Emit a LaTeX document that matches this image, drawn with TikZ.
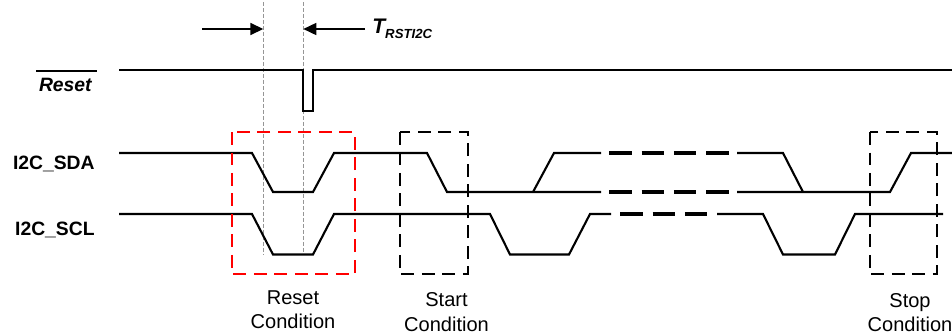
\documentclass[tikz,border=0pt]{standalone}
\usepackage{fontspec}
\setmainfont{Liberation Sans}
\usepackage{tikz}
\usepackage{xcolor}
\usetikzlibrary{arrows.meta,calc}
\definecolor{guidegray}{RGB}{150,150,150}

\begin{document}
\begin{tikzpicture}[
  x=0.02cm, y=-0.02cm,
  sig/.style={line width=1.2pt, line join=miter},
  gapdash/.style={line width=1.8pt, dash pattern=on 0.45cm off 0.2cm},
  condbox/.style={line width=1.4pt, dash pattern=on 0.26cm off 0.15cm},
  marker/.style={guidegray, line width=0.6pt, dash pattern=on 0.08cm off 0.04cm},
  arrow/.style={-{Triangle[length=0.26cm,width=0.24cm]}, line width=0.9pt},
  lbl/.style={inner sep=0pt, font=\fontsize{11}{13}\selectfont\bfseries},
  cond/.style={inner sep=0pt, anchor=base, font=\fontsize{11.4}{14}\selectfont}
]
\useasboundingbox (0,0) rectangle (952,335);

% signal names
\node[lbl, anchor=base east, font=\fontsize{11}{13}\selectfont\bfseries\itshape] (rstlbl) at (92,91.7) {Reset};
\draw[line width=1pt] ([xshift=-0.05cm,yshift=4pt]rstlbl.north west) -- ([xshift=0.09cm,yshift=4pt]rstlbl.north east);
\node[lbl, anchor=base east] (sdalbl) at (95,169) {I2C\_SDA};
\node[lbl, anchor=base east] (scllbl) at (95,235.7) {I2C\_SCL};

% timing markers
\coordinate (mkA) at (263.3,29);
\coordinate (mkB) at (303.3,29);
\coordinate (arA) at (202,29);
\coordinate (arB) at (365,29);
\draw[marker] (263.3,2) -- (263.3,255);
\draw[marker] (303.3,2) -- (303.3,255);
\draw[arrow] (arA) -- (mkA);
\draw[arrow] (arB) -- (mkB);
\node[inner sep=0pt, anchor=base west, font=\fontsize{12}{14}\selectfont\bfseries\itshape] (tlbl) at (372,33)
  {T\raisebox{-3pt}{\fontsize{7.5}{8}\selectfont RSTI2C}};

% reset line
\draw[sig] (119,70) -- (303.3,70) -- (303.3,111) -- (313.3,111) -- (313.3,70) -- (952,70);

% SDA
\draw[sig] (119,153) -- (252,153) -- (273,192) -- (313,192) -- (334,153) -- (427,153) -- (447,192) -- (601,192);
\draw[sig] (533,192) -- (554,153) -- (601,153);
\draw[gapdash] (609,153) -- (731,153);
\draw[gapdash] (609,192) -- (731,192);
\draw[sig] (737,153) -- (783,153) -- (803,192);
\draw[sig] (737,192) -- (890,192) -- (911,153) -- (952,153);

% SCL
\draw[sig] (119,214) -- (252,214) -- (273,254.5) -- (313,254.5) -- (334,214) -- (490,214) -- (510,254.5) -- (569,254.5) -- (590,214) -- (611,214);
\draw[gapdash] (620,214) -- (708,214);
\draw[sig] (717,214) -- (763,214) -- (783,254.5) -- (835,254.5) -- (855,214) -- (943,214);

% conditions
\draw[condbox, red] (232,132) rectangle (355,274);
\draw[condbox] (400,132) rectangle (468,274);
\draw[condbox] (870,132) rectangle (937,274);

\node[cond] (rstA) at (293,304.3) {Reset};
\node[cond] (rstB) at (293,328.3) {Condition};
\node[cond] (startA) at (446.5,306.7) {Start};
\node[cond] (startB) at (446.5,331.5) {Condition};
\node[cond] (stopA) at (910,307) {Stop};
\node[cond] (stopB) at (910,331.5) {Condition};

\end{tikzpicture}
\end{document}
